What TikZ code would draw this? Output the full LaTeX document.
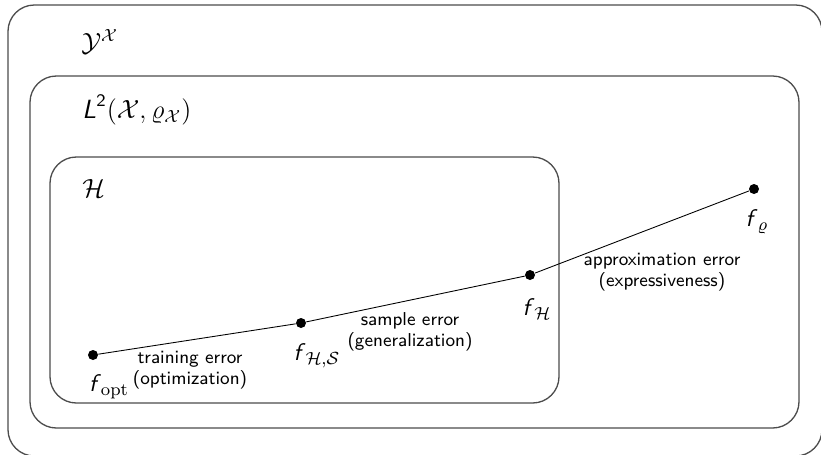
\documentclass[tikz,border=0pt,11pt]{standalone}
\usepackage{xcolor}
\usepackage{amsmath, amsfonts, amssymb}
\usepackage{tikz}

\newcommand{\sff}{\textsf{\textit{f}}}

\tikzset{
    region/.style={draw=black!70, line width=0.6pt, rounded corners=12},
    dot/.style={circle, fill=black, inner sep=0pt, minimum size=1.6mm},
    setlabel/.style={anchor=west, inner sep=0pt, font=\large},
    flabel/.style={inner sep=0pt},
    errlabel/.style={align=center, inner sep=0pt, font=\sffamily\fontsize{8.5}{9.3}\selectfont}
}

\begin{document}
\begin{tikzpicture}[x=0.016cm, y=-0.016cm]
        \useasboundingbox (0,0) rectangle (821,455);

        \draw[region] (8,5) rectangle (822,456);
        \draw[region] (30,76) rectangle (799,428);
        \draw[region] (50,157) rectangle (559,403);

        \node[setlabel] at (81,42) (Y) {$\mathcal{Y}^{\mathcal{X}}$};
        \node[setlabel] at (82,110) (L) {$\textsf{\textit{L}}^{\textsf{2}}(\mathcal{X},\varrho_{\mathcal{X}})$};
        \node[setlabel] at (82,188) (H) {$\mathcal{H}$};

        \node[dot] at (93,355) (fopt) {};
        \node[dot] at (301,323) (fHS) {};
        \node[dot] at (530,275) (fH) {};
        \node[dot] at (754,189) (frho) {};

        \node[flabel] at (109,387) (lopt) {$\sff_{\mathrm{opt}}$};
        \node[flabel] at (317,356) (lHS) {$\sff_{\mathcal{H},\mathcal{S}}$};
        \node[flabel] at (537,309) (lH) {$\sff_{\mathcal{H}}$};
        \node[flabel] at (757,222) (lrho) {$\sff_{\varrho}$};

        \draw (fopt) -- (fHS);
        \draw (fHS) -- (fH);
        \draw (fH) -- (frho);

        \node[errlabel] at (190,370) (train) {training error\\(optimization)};
        \node[errlabel] at (410,332) (sample) {sample error\\(generalization)};
        \node[errlabel] at (662,272) (approx) {approximation error\\(expressiveness)};
    \end{tikzpicture}
\end{document}
